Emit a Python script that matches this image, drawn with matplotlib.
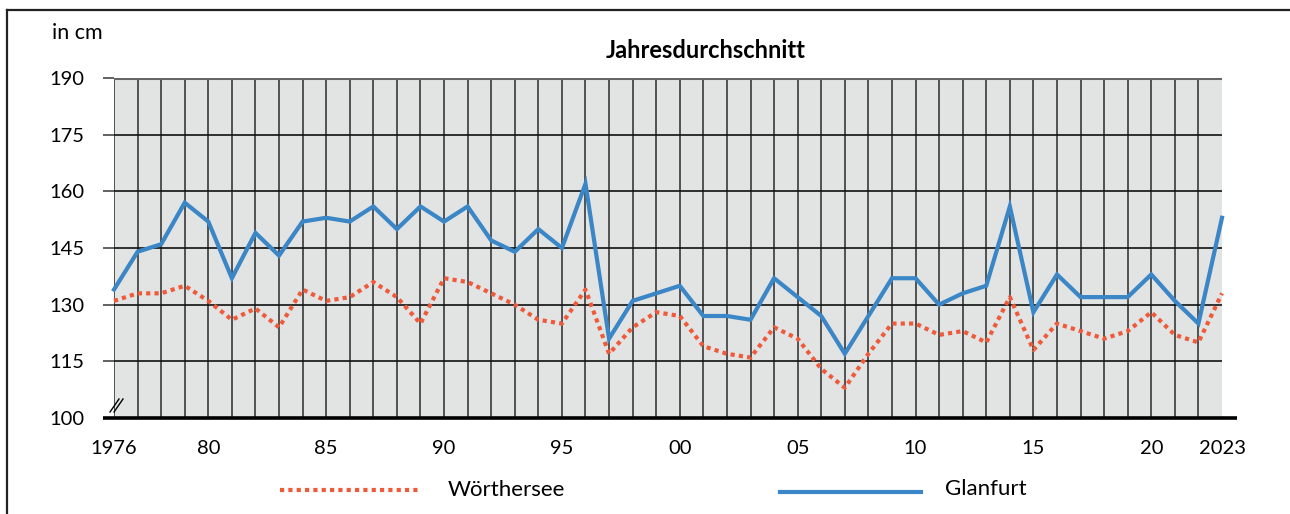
import matplotlib
matplotlib.use("Agg")
import matplotlib.pyplot as plt
from matplotlib.lines import Line2D

plt.rcParams['font.family'] = ['Lato', 'DejaVu Sans']

years = list(range(1976, 2024))
glanfurt = [134, 144, 146, 157, 152, 137, 149, 143, 152, 153,
            152, 156, 150, 156, 152, 156, 147, 144, 150, 145,
            162, 121, 131, 133, 135, 127, 127, 126, 137, 132,
            127, 117, 127, 137, 137, 130, 133, 135, 156, 128,
            138, 132, 132, 132, 138, 131, 125, 153]
woerthersee = [131, 133, 133, 135, 131, 126, 129, 124, 134, 131,
               132, 136, 132, 125, 137, 136, 133, 130, 126, 125,
               134, 117, 124, 128, 127, 119, 117, 116, 124, 121,
               113, 108, 117, 125, 125, 122, 123, 120, 132, 118,
               125, 123, 121, 123, 128, 122, 120, 133]
yticks = [100, 115, 130, 145, 160, 175, 190]
xtick_pos = [1976, 1980, 1985, 1990, 1995, 2000, 2005, 2010, 2015, 2020, 2023]
xtick_lab = ["1976", "80", "85", "90", "95", "00", "05", "10", "15", "20", "2023"]
title = "Jahresdurchschnitt"
unit = "in cm"
names = ["Wörthersee", "Glanfurt"]

W, H = 1290, 514
fig = plt.figure(figsize=(W / 100, H / 100), dpi=100)
L, R, T, B = 114, 1222, 78, 418
ax = fig.add_axes([L / W, 1 - B / H, (R - L) / W, (B - T) / H])
ax.set_facecolor('#e2e3e3')
ax.set_xlim(1976, 2023)
ax.set_ylim(100, 190)

for s in ax.spines.values():
    s.set_visible(False)

# grid
for yr in years[:-1]:
    ax.axvline(yr, color='#2a2a2a', lw=1.1, zorder=1)
for v in yticks[1:-1]:
    ax.axhline(v, color='#111111', lw=1.2, zorder=1)
ax.axhline(190, color='#666666', lw=2.2, zorder=1)

ax.set_yticks(yticks)
ax.set_yticklabels([str(v) for v in yticks], fontsize=14.5)
ax.tick_params(axis='y', length=8, width=1.3, color='#555555', pad=13)
ax.set_xticks(xtick_pos)
ax.set_xticklabels(xtick_lab, fontsize=14.5)
ax.tick_params(axis='x', length=0, pad=16)

ax.plot(years, woerthersee, color='#ef5a3a', lw=3.0, linestyle=(0, (1.0, 1.0)),
        zorder=3, clip_on=False)
ax.plot(years, glanfurt, color='#3a86c6', lw=3.0, zorder=4, clip_on=False,
        solid_joinstyle='miter')

# bottom axis line extended
ax.add_line(Line2D([(103 - L) / (R - L), (1237 - L) / (R - L)], [0, 0],
                   transform=ax.transAxes, color='black', lw=2.6,
                   clip_on=False, zorder=5, solid_capstyle='butt'))
# break mark
for dx in (0, 4):
    fig.add_artist(Line2D([(110 + dx) / W, (119 + dx) / W],
                          [1 - 412 / H, 1 - 399 / H], color='black', lw=1.0))

# outer border (top + left)
fig.add_artist(Line2D([7 / W, 1.0], [1 - 10 / H, 1 - 10 / H], color='#222222', lw=1.6))
fig.add_artist(Line2D([7 / W, 7 / W], [0, 1 - 10 / H], color='#222222', lw=1.6))

fig.text(706 / W, 1 - 50 / H, title, ha='center', va='center', fontsize=17,
         fontweight='bold')
fig.text(52 / W, 1 - 33 / H, unit, ha='left', va='center', fontsize=15.5)

# legend
fig.add_artist(Line2D([280 / W, 421 / W], [1 - 490 / H, 1 - 490 / H],
                      color='#ef5a3a', lw=3.0, linestyle=(0, (1.0, 1.0))))
fig.text(448 / W, 1 - 490 / H, names[0], ha='left', va='center', fontsize=16)
fig.add_artist(Line2D([780 / W, 921 / W], [1 - 492 / H, 1 - 492 / H],
                      color='#3a86c6', lw=3.0))
fig.text(945 / W, 1 - 489 / H, names[1], ha='left', va='center', fontsize=16)

fig.savefig('out.png', dpi=100)
